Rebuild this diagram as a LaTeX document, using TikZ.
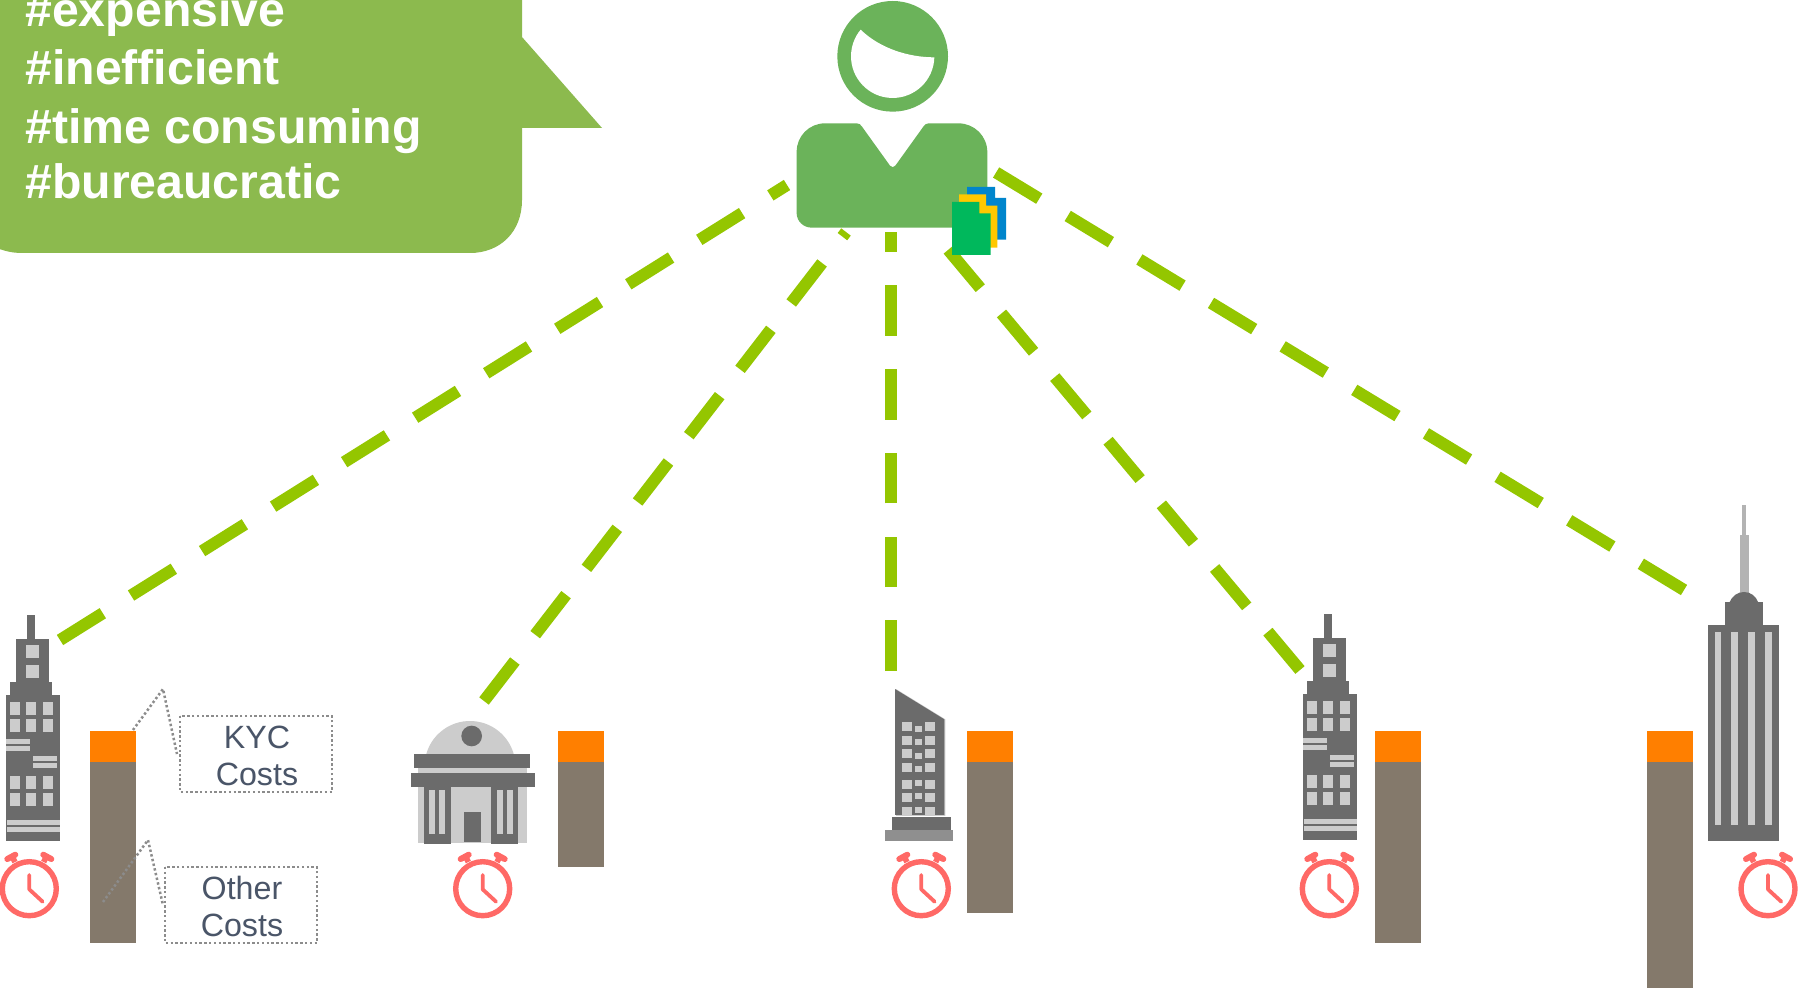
\documentclass[tikz,border=0pt]{standalone}
\usepackage{fontspec}
\setmainfont{Liberation Sans}
\definecolor{speech}{HTML}{8CBA4E}
\definecolor{person}{HTML}{6BB35A}
\definecolor{linkgreen}{HTML}{94C600}
\definecolor{bgray}{HTML}{6B6B6B}
\definecolor{lgray}{HTML}{CCCCCC}
\definecolor{mgray}{HTML}{8F8F8F}
\definecolor{sgray}{HTML}{B3B3B3}
\definecolor{clockred}{HTML}{FF6966}
\definecolor{barbrown}{HTML}{84796B}
\definecolor{barorange}{HTML}{FF7F00}
\definecolor{labeltext}{HTML}{4A5568}
\definecolor{dotgray}{HTML}{8C8C8C}
\definecolor{docblue}{HTML}{0085CC}
\definecolor{docyellow}{HTML}{FFC800}
\definecolor{docgreen}{HTML}{00B85C}
\tikzset{
  link/.style={draw=linkgreen,line width=6pt,dash pattern=on 25.25pt off 16.65pt},
  linkb/.style={draw=linkgreen,line width=6pt,dash pattern=on 25pt off 16.5pt},
  dotbox/.style={draw=dotgray,line width=1.25pt,dash pattern=on 1.2pt off 1.2pt},
  hash/.style={anchor=base west,inner sep=0pt,text=white,font=\bfseries\fontsize{24.1}{25}\selectfont},
  costlabel/.style={anchor=base,inner sep=0pt,text=labeltext,font=\fontsize{16.1}{17}\selectfont},
}
% zoomed pixel helpers
\newcommand{\dk}[4]{\fill[bgray] (#1,#2) rectangle (#3,#4);}
\newcommand{\lt}[4]{\fill[lgray] (#1,#2) rectangle (#3,#4);}
\newcommand{\towerbldg}[2]{%
\begin{scope}[shift={(#1,#2)},scale=1/3]
\dk{81}{45}{105}{120}\dk{48}{117}{147}{250}\dk{30}{246}{156}{290}\dk{18}{285}{180}{722}
\lt{78}{135}{117}{174}\lt{78}{195}{117}{234}
\foreach \yy in {306,357,528,579}{
  \lt{30}{\yy}{60}{\yy+39}\lt{78}{\yy}{108}{\yy+39}\lt{129}{\yy}{159}{\yy+39}}
\lt{18}{417}{90}{432}\lt{18}{438}{90}{453}
\lt{99}{468}{171}{483}\lt{99}{489}{171}{504}
\lt{21}{660}{180}{675}\lt{21}{681}{180}{696}
\end{scope}}
\newcommand{\alarm}[1]{%
\begin{scope}[shift={(#1,888.7)},scale=1/3]
\draw[clockred,line width=2.7pt] (0,0) circle[radius=81];
\draw[clockred,line width=1.9pt,line cap=round,line join=round] (0,-41) -- (0,2) -- (40,39);
\draw[clockred,line width=3pt,line cap=round] (-66,-89) -- (-42,-102);
\draw[clockred,line width=3pt,line cap=round] (66,-89) -- (42,-102);
\draw[clockred,line width=2.8pt] (-51,-96) -- (-43,-80);
\draw[clockred,line width=2.8pt] (51,-96) -- (43,-80);
\end{scope}}
\newcommand{\costbar}[2]{%
\fill[barbrown] (#1,762) rectangle (#1+46,#2);
\fill[barorange] (#1,731) rectangle (#1+46,762);}
\begin{document}
\begin{tikzpicture}[x=0.5pt,y=-0.5pt]
\clip (0,0) rectangle (1799,988);
\fill[white] (0,0) rectangle (1799,988);

% connector end points
\coordinate (hub1) at (787,185);
\coordinate (hub2) at (846,232);
\coordinate (hub3) at (891,232);
\coordinate (hub4) at (945,246);
\coordinate (hub5) at (992,170);
\coordinate (end1) at (60,640);
\coordinate (end2) at (484,701);
\coordinate (end3) at (891,671);
\coordinate (end4) at (1300,670);
\coordinate (end5) at (1684,590);
\draw[link] (end1) -- (hub1);
\draw[link] (end2) -- (hub2);
\draw[link] (end3) -- (hub3);
\draw[linkb] (end4) -- (hub4);
\draw[link] (end5) -- (hub5);

% speech bubble
\fill[speech] (-40,-10) -- (522,-10) -- (522,37) -- (602,128) -- (522,128) -- (522,200)
  .. controls (522,232) and (500,253) .. (470,253) -- (22,253)
  .. controls (10,253) and (0,250) .. (-12,244) -- cycle;
\node[hash] (h1) at (25,26.7) {\#expensive};
\node[hash] (h2) at (25,84.5) {\#inefficient};
\node[hash] (h3) at (25,144) {\#time consuming};
\node[hash] (h4) at (25,198.5) {\#bureaucratic};

% person
\begin{scope}[shift={(780,0)},scale=1/3]
\fill[person] (338,169) circle[radius=166];
\fill[white] (243,90) .. controls (300,145) and (385,172) .. (463,172)
  arc[start angle=1.4,end angle=219.7,radius=125] -- cycle;
\fill[person] (50,455) .. controls (50,408) and (88,370) .. (135,370) -- (230,370)
  .. controls (238,370) and (242,374) .. (246,380) -- (330,497)
  .. controls (334,503) and (342,503) .. (346,497) -- (430,380)
  .. controls (434,374) and (438,370) .. (446,370) -- (535,370)
  .. controls (583,370) and (622,408) .. (622,457) -- (622,683) -- (95,683)
  .. controls (70,683) and (50,663) .. (50,640) -- cycle;
\fill[docblue] (561,561) -- (645,561) -- (645,594) -- (678,594) -- (678,719) -- (561,719) -- cycle;
\fill[docyellow] (537,583) -- (618,583) -- (618,617) -- (652,617) -- (652,743) -- (537,743) -- cycle;
\fill[docgreen] (516,606) -- (598,606) -- (598,640) -- (632,640) -- (632,765) -- (516,765) -- cycle;
\end{scope}

% buildings
\towerbldg{0}{600}
\towerbldg{1297}{599}

% bank
\begin{scope}[shift={(400,700)},scale=1/3]
\fill[lgray] (78,165) arc[start angle=194.6,end angle=345.4,radius=136.4] -- cycle;
\fill[bgray] (215,108) circle[radius=31];
\lt{54}{200}{381}{222}
\lt{54}{258}{381}{429}
\dk{42}{162}{390}{204}
\dk{33}{219}{405}{261}
\dk{72}{261}{153}{432}\dk{273}{261}{354}{432}
\lt{87}{270}{105}{402}\lt{117}{270}{135}{402}
\lt{291}{270}{309}{402}\lt{321}{270}{339}{402}
\dk{192}{336}{243}{426}
\end{scope}

% slanted building
\begin{scope}[shift={(870,680)},scale=1/3]
\fill[lgray] (78,27) -- (226,118) -- (226,408) -- (78,408) -- cycle;
\fill[bgray] (75,27) -- (223,118) -- (223,405) -- (75,405) -- cycle;
\foreach \ya/\yb/\sa/\sb in {126/153/138/156,167/195/177/195,207/234/219/237,248/276/258/276,300/327/300/318,339/366/339/357,381/405/381/399}{
  \lt{96}{\ya}{126}{\yb}\lt{165}{\ya}{195}{\yb}\lt{135}{\sa}{157}{\sb}}
\dk{66}{411}{243}{451}
\fill[mgray] (45,450) rectangle (249,483);
\end{scope}

% tall building
\begin{scope}[shift={(1620,490)},scale=1/3]
\fill[sgray] (366,45) rectangle (378,136);
\fill[sgray] (360,135) rectangle (387,312);
\fill[bgray] (328,338) .. controls (336,318) and (352,306) .. (372,306) .. controls (392,306) and (408,318) .. (415,338) -- cycle;
\dk{315}{336}{429}{406}
\dk{264}{405}{477}{1053}
\lt{284}{426}{304}{1006}\lt{334}{426}{354}{1006}\lt{385}{426}{405}{1006}\lt{436}{426}{456}{1006}
\end{scope}

% alarm clocks
\alarm{29.3}\alarm{482.7}\alarm{921.3}\alarm{1329.3}\alarm{1768}

% bars
\costbar{90}{943}
\costbar{558}{867}
\costbar{967}{913}
\costbar{1375}{943}
\costbar{1647}{1000}

% callouts
\coordinate (kycfoot) at (133,730);
\coordinate (kyctip) at (163,689);
\coordinate (kycin) at (177,754);
\coordinate (othfoot) at (103,902);
\coordinate (othtip) at (148,840);
\coordinate (othin) at (163,905);
\draw[dotbox] (kycfoot) -- (kyctip) -- (kycin);
\draw[dotbox] (othfoot) -- (othtip) -- (othin);
\draw[dotbox] (180,716) rectangle (332,792);
\draw[dotbox] (165,867) rectangle (317,943);
\node[costlabel] (kyc1) at (257,748.5) {KYC};
\node[costlabel] (kyc2) at (257,785) {Costs};
\node[costlabel] (oth1) at (242,899) {Other};
\node[costlabel] (oth2) at (242,936) {Costs};
\end{tikzpicture}
\end{document}
